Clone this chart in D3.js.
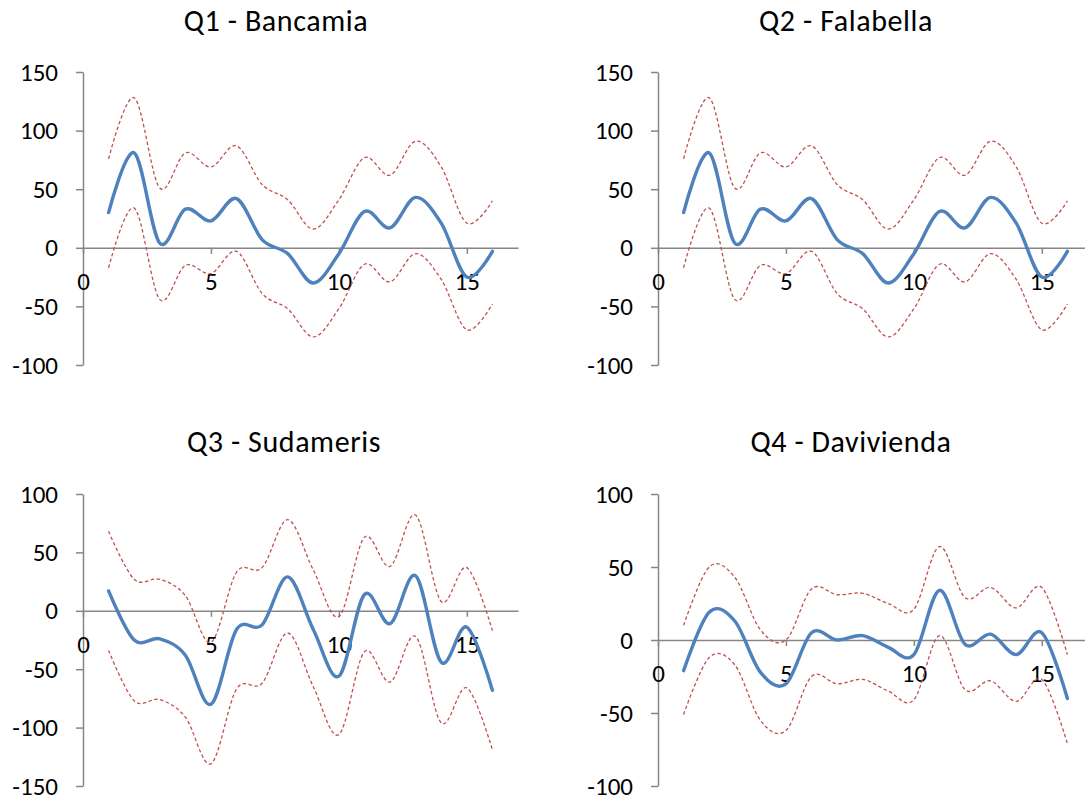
<!DOCTYPE html>
<html>
<head>
<meta charset="utf-8">
<title>Q1-Q4 bank series</title>
<style>
  body { margin: 0; background: #fff; }
  svg { display: block; font-family: Carlito, Calibri, Lato, sans-serif; }
  .axis path, .axis line { stroke: #868686; stroke-width: 1.5px; }
  .axis text { fill: #000; font-size: 25px; font-family: Carlito, Calibri, Lato, sans-serif; }
  .title { font-size: 30px; fill: #000; letter-spacing: 0.6px; }
  .mean { fill: none; stroke: #4F81BD; stroke-width: 3.4px; stroke-linecap: round; }
  .band { fill: none; stroke: #C0504D; stroke-width: 1.3px; stroke-dasharray: 3.5,2.5; }
</style>
</head>
<body>
<div class="viz"></div>
<script src="https://cdnjs.cloudflare.com/ajax/libs/d3/7.8.5/d3.min.js"></script>
<script>
// data
var xValues = [1, 2, 3, 4, 5, 6, 7, 8, 9, 10, 11, 12, 13, 14, 15, 16];
var xTicks = [0, 5, 10, 15];

var q1Mean  = [30, 81, 4, 33, 23, 42, 7, -5, -30, -5, 31, 17, 43, 21, -25, -3];
var q1Upper = [76, 128, 51, 81, 69, 87, 54, 41, 16, 41, 77, 62, 91, 69, 21, 40];
var q1Lower = [-17, 34, -44, -15, -22, -3, -39, -52, -76, -52, -14, -29, -5, -27, -70, -48];

var q2Mean  = [30, 81, 4, 33, 23, 42, 7, -5, -30, -5, 31, 17, 43, 21, -25, -3];
var q2Upper = [76, 128, 51, 81, 69, 87, 54, 41, 16, 41, 77, 62, 91, 69, 21, 40];
var q2Lower = [-17, 34, -44, -15, -22, -3, -39, -52, -76, -52, -14, -29, -5, -27, -70, -48];

var q3Mean  = [17, -25, -24, -38, -80, -16, -12, 29, -16, -56, 14, -11, 30, -44, -14, -68];
var q3Upper = [68, 27, 27, 13, -27, 33, 37, 78, 35, -5, 63, 38, 82, 8, 37, -17];
var q3Lower = [-34, -77, -76, -91, -131, -67, -62, -19, -65, -106, -35, -61, -22, -96, -66, -119];

var q4Mean  = [-21, 19, 13, -22, -30, 5, 0, 3, -5, -10, 34, -3, 4, -10, 5, -40];
var q4Upper = [10, 50, 43, 7, 0, 35, 31, 32, 25, 21, 64, 29, 36, 22, 36, -10];
var q4Lower = [-51, -12, -17, -55, -62, -25, -30, -27, -35, -41, 3, -34, -28, -42, -27, -71];

var titles = ["Q1 - Bancamia", "Q2 - Falabella", "Q3 - Sudameris", "Q4 - Davivienda"];
var yDomains = [[-100, 150], [-100, 150], [-150, 100], [-100, 100]];
var yTicks = [
  [-100, -50, 0, 50, 100, 150],
  [-100, -50, 0, 50, 100, 150],
  [-150, -100, -50, 0, 50, 100],
  [-100, -50, 0, 50, 100]
];

var width = 1085, height = 800;

// panel placement (y axis x, plot top/bottom, title centre)
var panels = [
  { left: 83,  top: 72,  bottom: 365, tx: 276, ty: 31,  mean: q1Mean, upper: q1Upper, lower: q1Lower },
  { left: 658, top: 72,  bottom: 365, tx: 846, ty: 31,  mean: q2Mean, upper: q2Upper, lower: q2Lower },
  { left: 83,  top: 494, bottom: 786, tx: 284, ty: 452, mean: q3Mean, upper: q3Upper, lower: q3Lower },
  { left: 658, top: 494, bottom: 786, tx: 851, ty: 452, mean: q4Mean, upper: q4Upper, lower: q4Lower }
];

// plain hyphen for negatives, like the original
var fmt = function (d) { return String(d); };

var svg = d3.select('.viz').append('svg')
  .attr('width', width)
  .attr('height', height);

panels.forEach(function (p, i) {
  var x = d3.scaleLinear().domain([0, 17]).range([p.left, p.left + 435]);
  var y = d3.scaleLinear().domain(yDomains[i]).range([p.bottom, p.top]);

  var g = svg.append('g');

  g.append('text')
    .attr('class', 'title')
    .attr('x', p.tx)
    .attr('y', p.ty)
    .attr('text-anchor', 'middle')
    .text(titles[i]);

  g.append('g')
    .attr('class', 'axis')
    .attr('transform', 'translate(' + p.left + ',0)')
    .call(d3.axisLeft(y).tickValues(yTicks[i]).tickFormat(fmt)
      .tickSize(7).tickSizeOuter(0).tickPadding(18));

  g.append('g')
    .attr('class', 'axis')
    .attr('transform', 'translate(0,' + y(0) + ')')
    .call(d3.axisBottom(x).tickValues(xTicks).tickFormat(fmt)
      .tickSize(6).tickSizeOuter(0).tickPadding(18));

  var line = d3.line()
    .x(function (d, j) { return x(xValues[j]); })
    .y(function (d) { return y(d); })
    .curve(d3.curveCatmullRom.alpha(0));

  g.append('path').attr('class', 'band').attr('d', line(p.upper));
  g.append('path').attr('class', 'band').attr('d', line(p.lower));
  g.append('path').attr('class', 'mean').attr('d', line(p.mean));
});
</script>
</body>
</html>
